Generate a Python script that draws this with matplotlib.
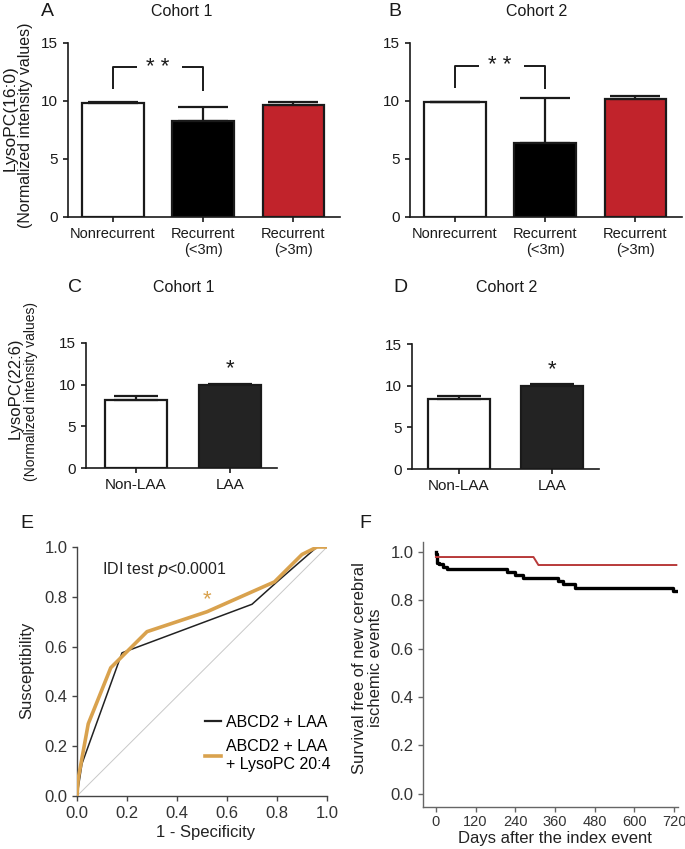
import matplotlib
matplotlib.use('Agg')
import matplotlib.pyplot as plt
from matplotlib.lines import Line2D

plt.rcParams['font.family'] = ['Liberation Sans', 'DejaVu Sans']

W, H = 685, 849

# --- data ---
groups_ab = ['Nonrecurrent', 'Recurrent\n(<3m)', 'Recurrent\n(>3m)']
c1_lpc160 = [9.85, 8.3, 9.65]
c1_lpc160_err = [0.1, 1.15, 0.25]
c2_lpc160 = [9.9, 6.4, 10.2]
c2_lpc160_err = [0.05, 3.85, 0.2]

groups_cd = ['Non-LAA', 'LAA']
c1_lpc226 = [8.15, 9.95]
c1_lpc226_err = [0.45, 0.15]
c2_lpc226 = [8.45, 10.0]
c2_lpc226_err = [0.35, 0.15]

roc_base_fpr = [0.0, 0.02, 0.18, 0.70, 0.80, 0.96, 1.0]
roc_base_tpr = [0.0, 0.13, 0.575, 0.77, 0.86, 1.0, 1.0]
roc_lyso_fpr = [0.0, 0.005, 0.045, 0.135, 0.20, 0.28, 0.52, 0.70, 0.79, 0.90, 0.96, 1.0]
roc_lyso_tpr = [0.0, 0.07, 0.29, 0.515, 0.58, 0.66, 0.74, 0.82, 0.86, 0.97, 1.0, 1.0]

km_black_days = [0, 1, 2, 4, 8, 20, 35, 214, 239, 264, 370, 385, 420, 717, 732]
km_black_surv = [1.0, 0.99, 0.97, 0.955, 0.948, 0.938, 0.927, 0.916, 0.905, 0.893,
                 0.879, 0.865, 0.851, 0.837, 0.837]
km_red_days = [0, 295, 310, 727]
km_red_surv = [0.978, 0.978, 0.945, 0.945]

RED = '#c1232b'
GOLD = '#d9a24e'
INK = '#1a1a1a'


def px(l, t, r, b):
    return [l / W, 1 - b / H, (r - l) / W, (b - t) / H]


fig = plt.figure(figsize=(W / 100, H / 100), dpi=100)


def bar_panel(rect, labels, vals, errs, colors, xlim, width, cap, lab_fs):
    ax = fig.add_axes(px(*rect))
    x = list(range(len(vals)))
    ax.bar(x, vals, width, color=colors, edgecolor=INK, linewidth=1.6, zorder=2)
    ax.errorbar(x, vals, yerr=[[0] * len(errs), errs], fmt='none', ecolor=INK,
                elinewidth=1.6, capsize=cap, capthick=1.6, zorder=3)
    ax.set_xlim(*xlim)
    ax.set_ylim(0, 15)
    ax.set_yticks([0, 5, 10, 15])
    ax.set_xticks(x)
    ax.set_xticklabels(labels, fontsize=lab_fs)
    for s in ['top', 'right']:
        ax.spines[s].set_visible(False)
    for s in ['left', 'bottom']:
        ax.spines[s].set_linewidth(1.2)
        ax.spines[s].set_color(INK)
    ax.tick_params(direction='out', length=3.5, width=1.2, colors=INK,
                   labelsize=11)
    ax.tick_params(axis='x', labelsize=lab_fs)
    return ax


def bracket(ax, x0, x1, top, l0, l1, text):
    kw = dict(color=INK, lw=1.4, solid_capstyle='butt')
    ax.plot([x0, x0, x0 + 0.27 * (x1 - x0)], [l0, top, top], **kw)
    ax.plot([x1 - 0.23 * (x1 - x0), x1, x1], [top, top, l1], **kw)
    ax.text((x0 + x1) / 2, top, text, ha='center', va='center', fontsize=16,
            color=INK)


# A
axA = bar_panel((68, 43, 340, 217), groups_ab, c1_lpc160, c1_lpc160_err,
                ['white', 'black', RED], (-0.5, 2.52), 0.68, 18, 10.5)
bracket(axA, 0, 1, 12.9, 11.0, 10.9, '* *')
# B
axB = bar_panel((410, 43, 682, 217), groups_ab, c2_lpc160, c2_lpc160_err,
                ['white', 'black', RED], (-0.5, 2.52), 0.68, 18, 10.5)
bracket(axB, 0, 1, 13.05, 11.1, 11.0, '* *')
# C
axC = bar_panel((86, 343, 277, 468), groups_cd, c1_lpc226, c1_lpc226_err,
                ['white', '#232323'], (-0.53, 1.5), 0.66, 16, 11)
axC.text(1, 11.9, '*', ha='center', va='center', fontsize=16, color=INK)
# D
axD = bar_panel((412, 344, 599, 469), groups_cd, c2_lpc226, c2_lpc226_err,
                ['white', '#232323'], (-0.505, 1.505), 0.66, 16, 11)
axD.text(1, 11.9, '*', ha='center', va='center', fontsize=16, color=INK)

# E: ROC
axE = fig.add_axes(px(77, 547, 327, 796))
axE.plot([0, 1], [0, 1], color='#c8c8c8', lw=0.7, zorder=1)
axE.plot(roc_base_fpr, roc_base_tpr, color='#222222', lw=1.1, zorder=2)
axE.plot(roc_lyso_fpr, roc_lyso_tpr, color=GOLD, lw=2.6, zorder=3)
axE.set_xlim(0, 1)
axE.set_ylim(0, 1)
axE.set_xticks([0, 0.2, 0.4, 0.6, 0.8, 1.0])
axE.set_yticks([0, 0.2, 0.4, 0.6, 0.8, 1.0])
axE.xaxis.set_major_formatter(matplotlib.ticker.FormatStrFormatter('%.1f'))
axE.yaxis.set_major_formatter(matplotlib.ticker.FormatStrFormatter('%.1f'))
for s in ['top', 'right']:
    axE.spines[s].set_visible(False)
for s in ['left', 'bottom']:
    axE.spines[s].set_color('#444444')
    axE.spines[s].set_linewidth(1.0)
axE.tick_params(direction='out', length=3.5, width=1.0, color='#444444',
                labelcolor='#333333', labelsize=12)
axE.text(0.10, 0.91, 'IDI test $p$<0.0001', fontsize=11.5, color='#222222',
         va='center', ha='left')
axE.text(0.52, 0.79, '*', fontsize=16, color=GOLD, ha='center', va='center')
handles = [Line2D([], [], color='#222222', lw=1.6),
           Line2D([], [], color=GOLD, lw=2.6)]
axE.legend(handles, ['ABCD2 + LAA', 'ABCD2 + LAA\n+ LysoPC 20:4'],
           loc='lower right', frameon=False, fontsize=11.5, handlelength=1.0,
           handletextpad=0.3, labelspacing=0.6, bbox_to_anchor=(1.07, 0.04))

# F: Kaplan-Meier
axF = fig.add_axes(px(423, 542, 678, 807))
axF.step(km_black_days, km_black_surv, where='post', color='black', lw=2.4)
axF.plot(km_red_days, km_red_surv, color='#b83a3a', lw=1.4)
axF.set_xlim(-39, 732)
axF.set_ylim(-0.054, 1.04)
axF.set_xticks([0, 120, 240, 360, 480, 600, 720])
axF.set_yticks([0, 0.2, 0.4, 0.6, 0.8, 1.0])
axF.yaxis.set_major_formatter(matplotlib.ticker.FormatStrFormatter('%.1f'))
for s in ['top', 'right']:
    axF.spines[s].set_visible(False)
for s in ['left', 'bottom']:
    axF.spines[s].set_color('#666666')
    axF.spines[s].set_linewidth(1.0)
axF.tick_params(direction='out', length=3.5, width=1.0, color='#666666',
                labelcolor='#333333', labelsize=12)
axF.tick_params(axis='x', labelsize=10.5, pad=2)

# labels / letters
fig.text(10 / W, 1 - 118 / H, 'LysoPC(16:0)', rotation=90, ha='center',
         va='center', fontsize=12.5, color=INK)
fig.text(26 / W, 1 - 125 / H, '(Normalized intensity values)', rotation=90,
         ha='center', va='center', fontsize=11.5, color=INK)
fig.text(15 / W, 1 - 388 / H, 'LysoPC(22:6)', rotation=90, ha='center',
         va='center', fontsize=12, color=INK)
fig.text(31 / W, 1 - 392 / H, '(Normalized intensity values)', rotation=90,
         ha='center', va='center', fontsize=10, color=INK)
fig.text(27 / W, 1 - 670 / H, 'Susceptibility', rotation=90, ha='center',
         va='center', fontsize=12, color='#222222')
fig.text(206 / W, 1 - 832 / H, '1 - Specificity', ha='center', va='center',
         fontsize=12, color='#222222')
fig.text(360 / W, 1 - 668 / H, 'Survival free of new cerebral', rotation=90,
         ha='center', va='center', fontsize=12, color='#222222')
fig.text(376 / W, 1 - 668 / H, 'ischemic events', rotation=90,
         ha='center', va='center', fontsize=12, color='#222222')
fig.text(555 / W, 1 - 838 / H, 'Days after the index event', ha='center',
         va='center', fontsize=12, color='#222222')

letters = [('A', 47, 12), ('B', 395, 12), ('C', 75, 288), ('D', 400, 288),
           ('E', 27, 523), ('F', 365, 523)]
for t, x, y in letters:
    fig.text(x / W, 1 - y / H, t, ha='center', va='center', fontsize=14,
             color=INK)
titles = [('Cohort 1', 182, 12), ('Cohort 2', 537, 12), ('Cohort 1', 184, 288),
          ('Cohort 2', 507, 288)]
for t, x, y in titles:
    fig.text(x / W, 1 - y / H, t, ha='center', va='center', fontsize=11.5,
             color=INK)

fig.savefig('out.png', dpi=100)
